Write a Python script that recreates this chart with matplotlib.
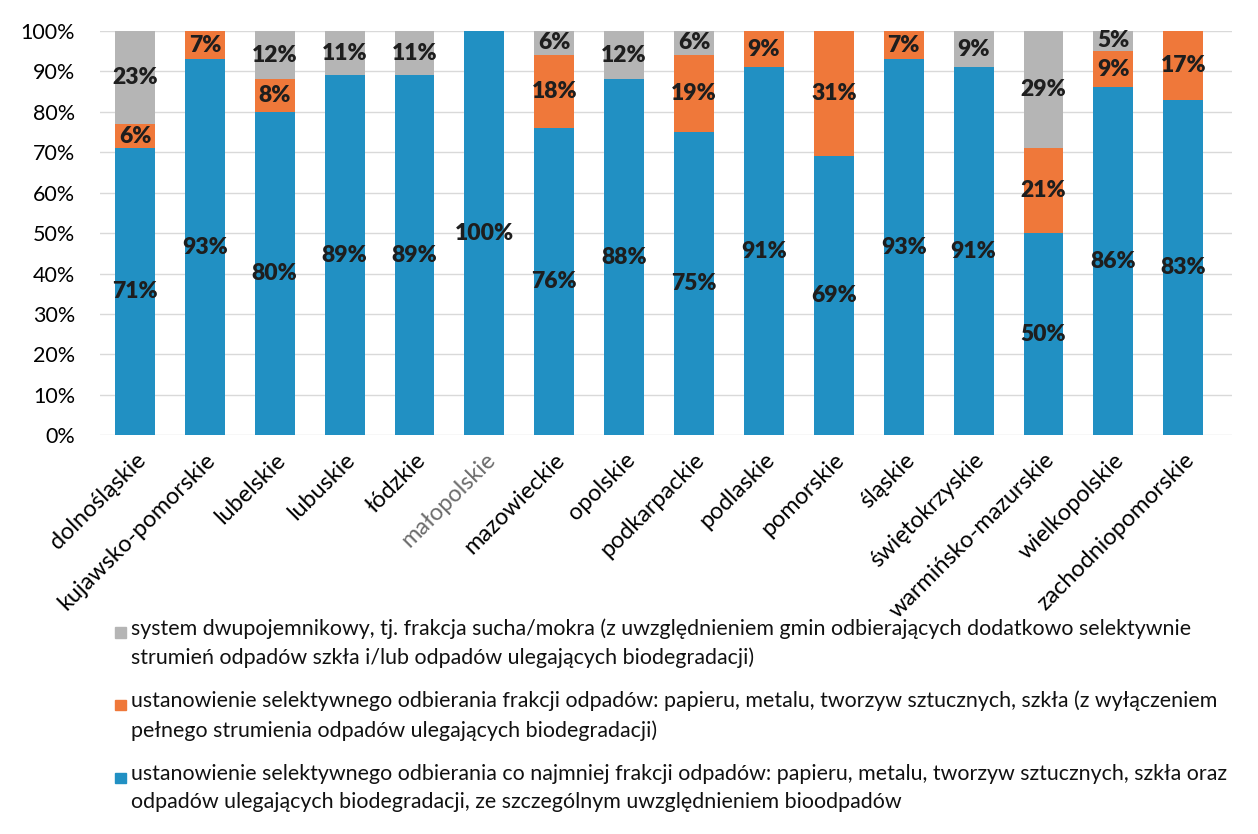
import numpy as np
import matplotlib.pyplot as plt
from matplotlib.patches import Rectangle

plt.rcParams['font.family'] = ['Lato', 'DejaVu Sans']

# Regions (voivodeships)
regions = ['dolnośląskie', 'kujawsko-pomorskie', 'lubelskie', 'lubuskie', 'łódzkie',
           'małopolskie', 'mazowieckie', 'opolskie', 'podkarpackie', 'podlaskie',
           'pomorskie', 'śląskie', 'świętokrzyskie', 'warmińsko-mazurskie',
           'wielkopolskie', 'zachodniopomorskie']

# shares in percent
blue = [71, 93, 80, 89, 89, 100, 76, 88, 75, 91, 69, 93, 91, 50, 86, 83]
orange = [6, 7, 8, 0, 0, 0, 18, 0, 19, 9, 31, 7, 0, 21, 9, 17]
gray = [23, 0, 12, 11, 11, 0, 6, 12, 6, 0, 0, 0, 9, 29, 5, 0]

legend_labels = [
    'system dwupojemnikowy, tj. frakcja sucha/mokra (z uwzględnieniem gmin odbierających dodatkowo selektywnie\n'
    'strumień odpadów szkła i/lub odpadów ulegających biodegradacji)',
    'ustanowienie selektywnego odbierania frakcji odpadów: papieru, metalu, tworzyw sztucznych, szkła (z wyłączeniem\n'
    'pełnego strumienia odpadów ulegających biodegradacji)',
    'ustanowienie selektywnego odbierania co najmniej frakcji odpadów: papieru, metalu, tworzyw sztucznych, szkła oraz\n'
    'odpadów ulegających biodegradacji, ze szczególnym uwzględnieniem bioodpadów',
]

c_blue = '#2190c3'
c_orange = '#ef783a'
c_gray = '#b5b5b5'

fig = plt.figure(figsize=(12.58, 8.34), dpi=100)
ax = fig.add_axes([0.0795, 0.478, 0.90, 0.485])

x = np.arange(len(regions))
b = np.array(blue) / 100
o = np.array(orange) / 100
g = np.array(gray) / 100
w = 0.57

series = [(b, np.zeros_like(b), c_blue), (o, b, c_orange), (g, b + o, c_gray)]
for vals, bottom, col in series:
    ax.bar(x, vals, w, bottom=bottom, color=col, zorder=2)
    for xi, v, bt in zip(x, vals, bottom):
        if v > 0:
            ax.text(xi, bt + v / 2, f'{v * 100:.0f}%', ha='center', va='center',
                    fontsize=16.5, fontweight='heavy', color='#1e1e1e', zorder=3)

ax.set_ylim(0, 1)
ax.set_xlim(-0.5, 15.7)
ax.set_yticks(np.arange(0, 1.01, 0.1))
ax.set_yticklabels([f'{int(v)}%' for v in np.arange(0, 101, 10)], fontsize=15.5)
ax.yaxis.grid(True, color='#d9d9d9', linewidth=1, zorder=0)
ax.set_axisbelow(True)
for s in ax.spines.values():
    s.set_visible(False)
ax.tick_params(axis='both', length=0)
ax.tick_params(axis='y', pad=18)
ax.set_xticks(x)
ax.set_xticklabels(regions, rotation=45, ha='right', rotation_mode='anchor', fontsize=16.8)
ax.tick_params(axis='x', pad=10)
ax.get_xticklabels()[5].set_color('#6b6b6b')

# legend drawn by hand so the square sits on the first line
legend_colors = [c_gray, c_orange, c_blue]
y0 = 0.243
dy = 0.0873
for i, (lab, col) in enumerate(zip(legend_labels, legend_colors)):
    yy = y0 - i * dy
    fig.patches.append(Rectangle((0.0915, yy - 0.0075), 0.0085, 0.0128,
                                 transform=fig.transFigure, color=col))
    fig.text(0.104, yy + 0.016, lab, fontsize=15.4, va='top', ha='left',
             linespacing=1.55, color='#111111')

fig.savefig('out.png', dpi=100)
